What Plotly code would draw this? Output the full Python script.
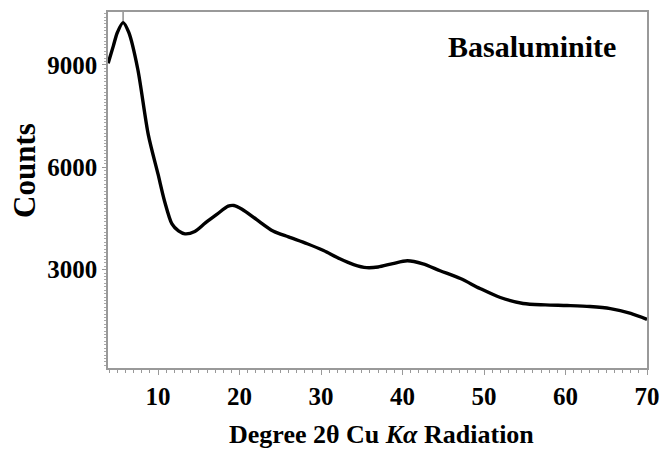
import plotly.graph_objects as go

# Data (Degree 2θ, Counts)
two_theta = [3.87, 4.5, 5.0, 5.7, 6.4, 7.5, 8.8, 10.0, 10.8, 11.7, 12.5, 13.3, 14.5, 15.8, 17.2,
             18.6, 19.3, 20.3, 22.1, 24.1, 26.0, 28.3, 30.3, 32.3, 34.0, 35.6, 37.0, 38.8,
             40.6, 42.5, 44.6, 47.1, 49.5, 52.0, 54.8, 57.5, 60.2, 63.0, 65.5, 68.0, 70.0]
counts = [9050, 9550, 9950, 10240, 9950, 8880, 6950, 5790, 5000, 4340, 4135, 4050, 4120, 4370, 4620,
          4860, 4880, 4770, 4466, 4135, 3960, 3760, 3560, 3320, 3150, 3060, 3080, 3180,
          3260, 3170, 2970, 2740, 2450, 2185, 2010, 1970, 1950, 1920, 1860, 1720, 1545]
peak_x = [5.7, 5.7]
peak_y = [10240, 10600]

serif = "Liberation Serif"

fig = go.Figure()
fig.add_trace(go.Scatter(x=peak_x, y=peak_y, mode="lines",
                         line=dict(color="#555", width=1), hoverinfo="skip"))
fig.add_trace(go.Scatter(x=two_theta, y=counts, mode="lines",
                         line=dict(color="black", width=3.4, shape="spline", smoothing=0.8)))

fig.update_layout(
    template="none",
    width=667, height=450,
    margin=dict(l=108, r=20, t=12, b=82),
    paper_bgcolor="white", plot_bgcolor="white",
    showlegend=False,
    font=dict(family=serif, color="black"),
    annotations=[
        dict(text="<b>Basaluminite</b>", xref="paper", yref="paper",
             x=0.946, y=0.902, xanchor="right", yanchor="middle",
             showarrow=False, font=dict(size=30, family=serif, color="black")),
        dict(text="<b>Counts</b>", xref="paper", yref="paper",
             x=-0.156, y=0.556, xanchor="center", yanchor="middle", textangle=-90,
             showarrow=False, font=dict(size=31, family=serif, color="black")),
        dict(text="<b>Degree 2θ Cu <i>Kα</i> Radiation</b>", xref="paper", yref="paper",
             x=0.508, y=-0.188, xanchor="center", yanchor="middle",
             showarrow=False, font=dict(size=26, family=serif, color="black")),
    ],
)
fig.update_xaxes(
    range=[3.85, 70], tickvals=[10, 20, 30, 40, 50, 60, 70], automargin=False,
    ticks="outside", ticklen=5, tickcolor="#999", tickwidth=1,
    minor=dict(dtick=1, tick0=0, ticks="outside", ticklen=3, tickcolor="#999"),
    showline=True, linecolor="#999", linewidth=1.5, mirror=True, showgrid=False, zeroline=False,
    tickfont=dict(size=25, family=serif, color="black", weight="bold"),
)
fig.update_yaxes(
    range=[120, 10550], tickvals=[3000, 6000, 9000], automargin=False,
    ticks="outside", ticklen=4, tickcolor="#999", tickwidth=1,
    minor=dict(dtick=100, tick0=0, ticks="outside", ticklen=2, tickcolor="#aaa"),
    showline=True, linecolor="#999", linewidth=1.5, mirror=True, showgrid=False, zeroline=False,
    tickfont=dict(size=25, family=serif, color="black", weight="bold"),
)

fig.write_html("out.html")
